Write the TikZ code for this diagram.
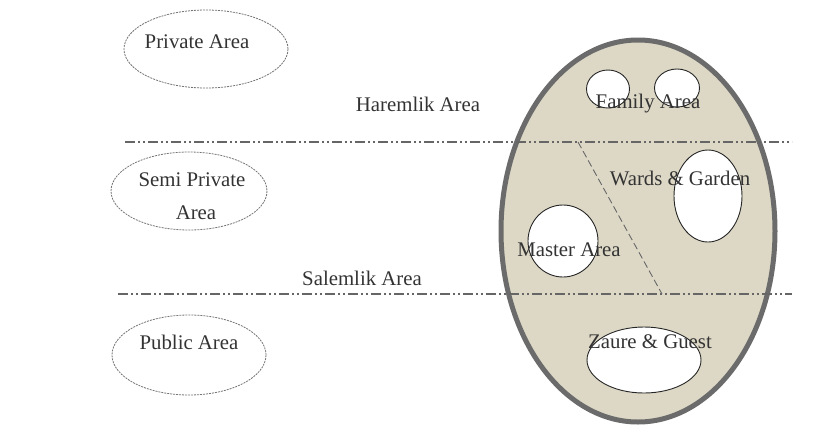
\documentclass[tikz,border=0pt]{standalone}
\usepackage{fontspec}
\setmainfont{Liberation Serif}
\usetikzlibrary{shapes.geometric}
\begin{document}
\begin{tikzpicture}[x=1pt,y=-1pt,
  lbl/.style={font=\fontsize{20.8}{24}\selectfont, text=black!80, inner sep=0pt},
  zone/.style={draw=black!55, line width=0.8pt, dash pattern=on 2pt off 1pt},
  room/.style={draw=black!85, line width=0.9pt, fill=white},
  divider/.style={draw=black!60, line width=1.2pt, dash pattern=on 10pt off 3pt on 2pt off 3pt on 2pt off 3pt},
  diag/.style={draw=black!60, line width=0.9pt, dash pattern=on 7pt off 3.5pt}]
\useasboundingbox (0,0) rectangle (820,440);
% left ellipses
\draw[zone] (206,49) ellipse [x radius=82, y radius=39];
\node[lbl] (priv) at (197,42) {Private Area};
\draw[zone] (189,191) ellipse [x radius=78, y radius=39];
\node[lbl] (semi1) at (192,180) {Semi Private};
\node[lbl] (semi2) at (196,213) {Area};
\draw[zone] (189,355) ellipse [x radius=77, y radius=40];
\node[lbl] (pub) at (189,342) {Public Area};
% big ellipse
\draw[draw=black!58, line width=5pt, fill={rgb,255:red,221;green,216;blue,198}] (638,231) ellipse [x radius=137, y radius=191];
% dividers
\coordinate (h1) at (125,142); \coordinate (h2) at (792,142);
\coordinate (s1) at (118,294); \coordinate (s2) at (792,294);
\draw[divider] (h1) -- (h2);
\draw[divider] (s1) -- (s2);
\coordinate (d1) at (578,142); \coordinate (d2) at (662,294);
\draw[diag] (d1) -- (d2);
\node[lbl] (harem) at (418,104) {Haremlik Area};
\node[lbl] (salem) at (362,278) {Salemlik Area};
% rooms
\draw[room] (608,89) ellipse [x radius=21.5, y radius=19];
\draw[room] (677,88) ellipse [x radius=22.5, y radius=19];
\draw[room] (708,196) ellipse [x radius=34, y radius=46];
\draw[room] (563,241) ellipse [x radius=35, y radius=36];
\draw[room] (644,360) ellipse [x radius=57, y radius=33];
\node[lbl] (fam) at (648,104) {Family Area};
\node[lbl] (ward) at (680,178) {Wards \& Garden};
\node[lbl] (mast) at (569,250) {Master Area};
\node[lbl] (zaure) at (650,342) {Zaure \& Guest};
\end{tikzpicture}
\end{document}
